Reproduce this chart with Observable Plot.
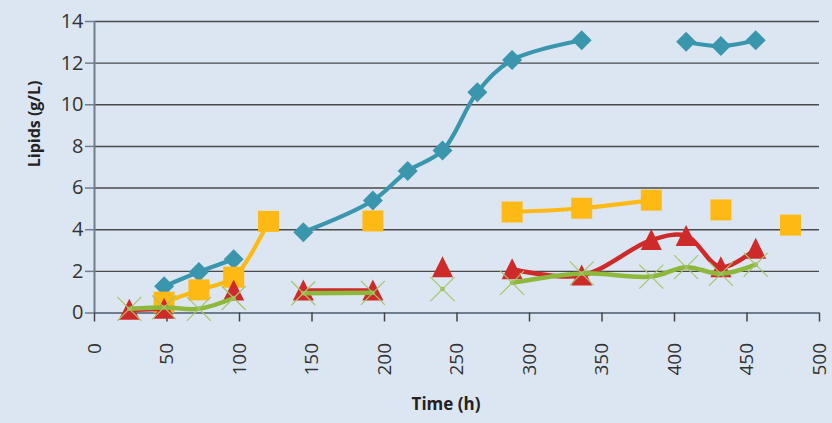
<!DOCTYPE html>
<html>
<head>
<meta charset="utf-8">
<script src="https://cdn.jsdelivr.net/npm/d3@7"></script>
<script src="https://cdn.jsdelivr.net/npm/@observablehq/plot@0.6"></script>
<style>
  html, body { margin: 0; padding: 0; background: #dce6f2; }
  #chart { width: 832px; height: 423px; }
</style>
</head>
<body>
<div id="chart"></div>
<script>
// ---- data ----
const times = [24, 48, 72, 96, 120, 144, 192, 216, 240, 264, 288, 336, 384, 408, 432, 456, 480];
const blueDiamonds  = [null, 1.28, 1.97, 2.58, null, 3.88, 5.4, 6.82, 7.8, 10.6, 12.15, 13.1, null, 13.03, 12.82, 13.1, null];
const orangeSquares = [null, 0.52, 1.11, 1.72, 4.4, null, 4.42, null, null, null, 4.85, 5.03, 5.42, null, 4.95, null, 4.22];
const redTriangles  = [0.15, 0.2, null, 1.08, null, 1.08, 1.08, null, 2.2, null, 2.1, 1.8, 3.5, 3.7, 2.2, 3.08, null];
const greenCrosses  = [0.2, 0.27, 0.2, 0.72, null, 0.95, 0.97, null, 1.15, null, 1.45, 1.9, 1.75, 2.2, 1.88, 2.32, null];
const xTicks = [0, 50, 100, 150, 200, 250, 300, 350, 400, 450, 500];
const yTicks = [0, 2, 4, 6, 8, 10, 12, 14];
const xLabel = "Time (h)";
const yLabel = "Lipids (g/L)";

const rows = (vals) => times.map((t, i) => ({t, v: vals[i]}));

// custom symbols: r = half-width
const symDiamond = {draw(c, size) { const h = Math.sqrt(size / Math.PI); c.moveTo(0, -h); c.lineTo(h, 0); c.lineTo(0, h); c.lineTo(-h, 0); c.closePath(); }};
const symSquare = {draw(c, size) { const h = Math.sqrt(size / Math.PI); c.rect(-h, -h, 2 * h, 2 * h); }};
const symTriangle = {draw(c, size) { const h = Math.sqrt(size / Math.PI); c.moveTo(0, -h * 1.05); c.lineTo(h, h * 0.95); c.lineTo(-h, h * 0.95); c.closePath(); }};
const symTimes = {draw(c, size) { const h = Math.sqrt(size / Math.PI); c.moveTo(-h, -h); c.lineTo(h, h); c.moveTo(h, -h); c.lineTo(-h, h); }};

const cBlue = "#3a96ad", cOrange = "#ffb914", cRed = "#cf2a2a", cGreen = "#8db83c", cGreenX = "#a7c46a";

const chart = Plot.plot({
  width: 832,
  height: 423,
  marginLeft: 94,
  marginRight: 13,
  marginTop: 21,
  marginBottom: 110.5,
  style: {background: "#dce6f2", fontFamily: "'Open Sans', sans-serif", fontSize: "20px", color: "#333"},
  x: {domain: [0, 500]},
  y: {domain: [0, 14]},
  marks: [
    Plot.gridY(yTicks, {stroke: "#4a4a4a", strokeOpacity: 1, strokeWidth: 1.4}),
    Plot.ruleX([0], {stroke: "#6f7d8c", strokeWidth: 2}),
    Plot.ruleY([0], {stroke: "#6f7d8c", strokeWidth: 2}),
    Plot.axisY({ticks: yTicks, tickSize: 9, tickPadding: 2, label: null, stroke: "#6f7d8c", strokeWidth: 1.5, fill: "#333"}),
    Plot.axisX({ticks: xTicks, tickSize: 9, tickPadding: 21, tickRotate: -90, label: null, stroke: "#444", strokeWidth: 1.5, fill: "#333", fontSize: 19}),
    Plot.text([yLabel], {frameAnchor: "left", dx: -60, rotate: -90, fontWeight: "bold", fontSize: 16, fill: "#222"}),
    Plot.text([xLabel], {frameAnchor: "bottom", dy: 97, dx: -11, fontWeight: "bold", fontSize: 17, fill: "#222"}),

    Plot.line(rows(blueDiamonds), {x: "t", y: "v", stroke: cBlue, strokeWidth: 4.2, curve: "catmull-rom"}),
    Plot.dot(rows(blueDiamonds), {x: "t", y: "v", symbol: symDiamond, r: 10, fill: cBlue}),

    Plot.line(rows(orangeSquares), {x: "t", y: "v", stroke: cOrange, strokeWidth: 4.2, curve: "catmull-rom"}),
    Plot.dot(rows(orangeSquares), {x: "t", y: "v", symbol: symSquare, r: 10.5, fill: cOrange}),

    Plot.line(rows(redTriangles), {x: "t", y: "v", stroke: cRed, strokeWidth: 4.5, curve: "catmull-rom"}),
    Plot.dot(rows(redTriangles), {x: "t", y: "v", symbol: symTriangle, r: 10.5, fill: cRed}),

    Plot.line(rows(greenCrosses), {x: "t", y: "v", stroke: cGreen, strokeWidth: 4.5, curve: "catmull-rom"}),
    Plot.dot(rows(greenCrosses), {x: "t", y: "v", symbol: symTimes, r: 12, stroke: cGreenX, strokeWidth: 1.2, fill: "none"})
  ]
});
document.getElementById("chart").appendChild(chart);
</script>
</body>
</html>
